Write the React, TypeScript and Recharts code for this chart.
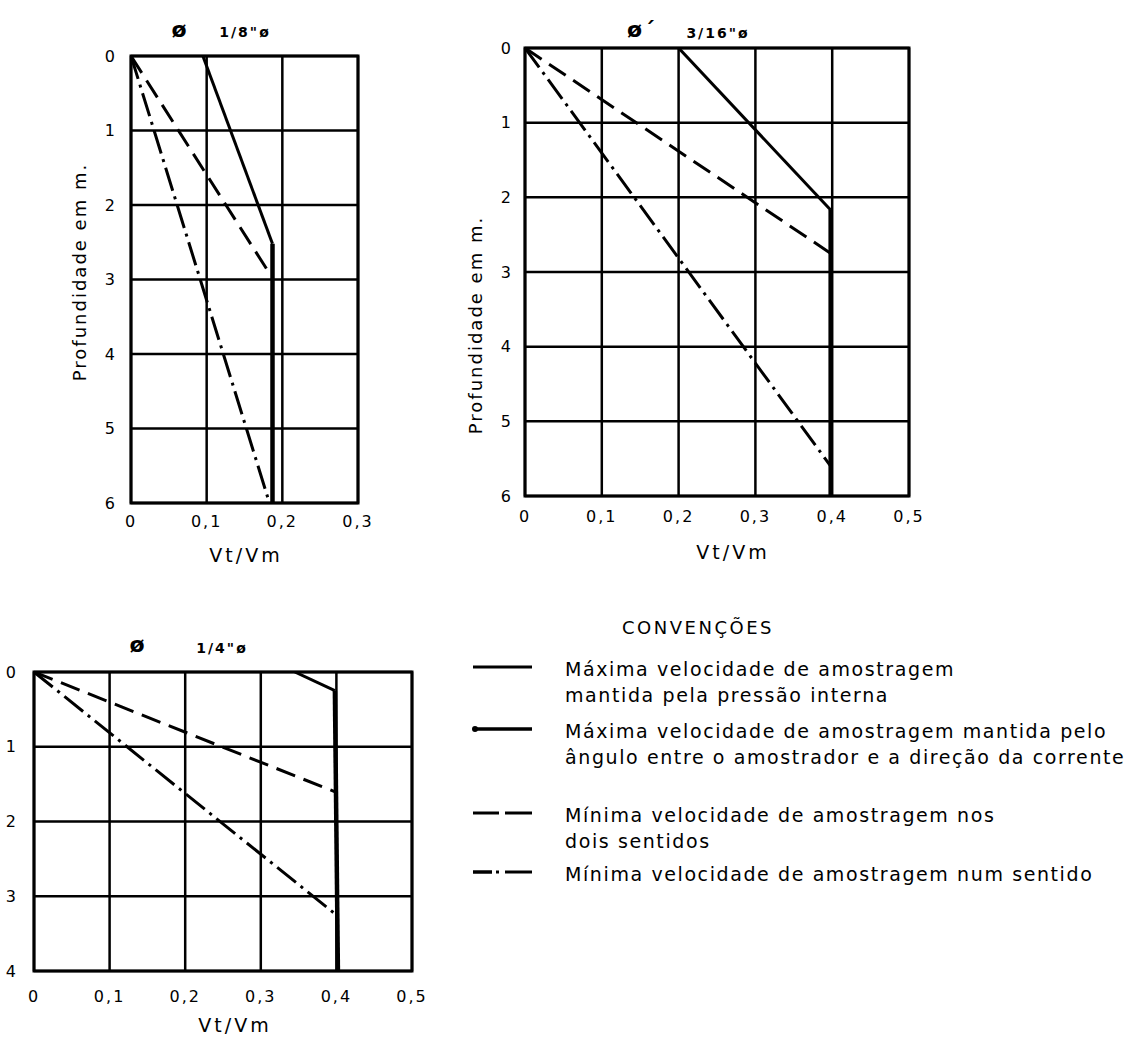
import { LineChart, Line, XAxis, YAxis, CartesianGrid, ReferenceArea } from 'recharts';

// Vt/Vm (v) x profundidade em m (p)
// 1/8" ø
const pressao18 = [{ v: 0.095, p: 0 }, { v: 0.187, p: 2.52 }];
const angulo18 = [{ v: 0.187, p: 2.52 }, { v: 0.187, p: 6 }];
const doisSentidos18 = [{ v: 0, p: 0 }, { v: 0.185, p: 2.95 }];
const umSentido18 = [{ v: 0, p: 0 }, { v: 0.183, p: 6 }];
const xTicks18 = [0, 0.1, 0.2, 0.3];
const yTicks18 = [0, 1, 2, 3, 4, 5, 6];

// 3/16" ø
const pressao316 = [{ v: 0.2, p: 0 }, { v: 0.398, p: 2.17 }];
const angulo316 = [{ v: 0.398, p: 2.17 }, { v: 0.398, p: 6 }];
const doisSentidos316 = [{ v: 0, p: 0 }, { v: 0.398, p: 2.75 }];
const umSentido316 = [{ v: 0, p: 0 }, { v: 0.398, p: 5.6 }];
const xTicks316 = [0, 0.1, 0.2, 0.3, 0.4, 0.5];
const yTicks316 = [0, 1, 2, 3, 4, 5, 6];

// 1/4" ø
const pressao14 = [{ v: 0.345, p: 0 }, { v: 0.398, p: 0.25 }];
const angulo14 = [{ v: 0.398, p: 0.25 }, { v: 0.402, p: 4 }];
const doisSentidos14 = [{ v: 0, p: 0 }, { v: 0.4, p: 1.61 }];
const umSentido14 = [{ v: 0, p: 0 }, { v: 0.4, p: 3.25 }];
const xTicks14 = [0, 0.1, 0.2, 0.3, 0.4, 0.5];
const yTicks14 = [0, 1, 2, 3, 4];

const legendTitle = 'CONVENÇÕES';
const legendLines = [
  ['Máxima velocidade de amostragem', 'mantida pela pressão interna'],
  ['Máxima velocidade de amostragem mantida pelo', 'ângulo entre o amostrador e a direção da corrente'],
  ['Mínima velocidade de amostragem nos', 'dois sentidos'],
  ['Mínima velocidade de amostragem num sentido'],
];

const FONT = '"DejaVu Sans", sans-serif';

const lineStyle = {
  pressao: { strokeWidth: 3 },
  angulo: { strokeWidth: 4.5 },
  dois: { strokeWidth: 3, strokeDasharray: '20 9' },
  um: { strokeWidth: 3, strokeDasharray: '24 6 3 6' },
};

const fmt = (v: number) => (v === 0 ? '0' : v.toFixed(1).replace('.', ','));

type Serie = { key: keyof typeof lineStyle; data: { v: number; p: number }[] };

function Panel(props: {
  left: number; top: number; w: number; h: number;
  xMax: number; yMax: number; xTicks: number[]; yTicks: number[];
  series: Serie[]; xm: number; ym: number;
}) {
  const { left, top, w, h, xMax, yMax, xTicks, yTicks, series, xm, ym } = props;
  const tick = { fill: '#000', fontSize: 16, fontFamily: FONT, letterSpacing: 2 };
  return (
    <div style={{ position: 'absolute', left: left - 30, top: top - 10 }}>
      <LineChart width={30 + w + 20} height={10 + h + 40} margin={{ top: 10, right: 20, left: 0, bottom: 0 }}>
        <CartesianGrid stroke="#000" strokeWidth={2.5} />
        <XAxis
          dataKey="v" type="number" domain={[0, xMax]} ticks={xTicks} allowDataOverflow
          tickFormatter={fmt} axisLine={false} tickLine={false} tickSize={0} tickMargin={xm}
          height={40} tick={tick} fontSize={16} fontFamily={FONT} interval={0}
        />
        <YAxis
          dataKey="p" type="number" domain={[0, yMax]} ticks={yTicks} reversed allowDataOverflow
          axisLine={false} tickLine={false} tickSize={0} tickMargin={ym}
          width={30} tick={tick} fontSize={16} fontFamily={FONT} interval={0}
        />
        <ReferenceArea x1={0} x2={xMax} y1={0} y2={yMax} fill="none" stroke="#000" strokeWidth={3} />
        {series.map((s, i) => (
          <Line
            key={i} data={s.data} dataKey="p" type="linear" stroke="#000"
            {...lineStyle[s.key]} dot={false} activeDot={false} isAnimationActive={false}
          />
        ))}
      </LineChart>
    </div>
  );
}

const txt = (x: number, y: number, s: string, size: number, extra: object = {}) => (
  <div
    style={{
      position: 'absolute', left: x, top: y, transform: 'translate(-50%, -50%)',
      fontFamily: FONT, fontSize: size, letterSpacing: 2, whiteSpace: 'nowrap', lineHeight: 1, ...extra,
    }}
  >
    {s}
  </div>
);

function Symbol({ kind }: { kind: keyof typeof lineStyle }) {
  return (
    <svg width={62} height={12} style={{ display: 'block' }}>
      {kind === 'dois' ? (
        <>
          <line x1={1} y1={6} x2={27} y2={6} stroke="#000" strokeWidth={3} />
          <line x1={33} y1={6} x2={60} y2={6} stroke="#000" strokeWidth={3} />
        </>
      ) : kind === 'um' ? (
        <>
          <line x1={1} y1={6} x2={20} y2={6} stroke="#000" strokeWidth={3.5} />
          <line x1={24} y1={6} x2={27} y2={6} stroke="#000" strokeWidth={3} />
          <line x1={33} y1={6} x2={60} y2={6} stroke="#000" strokeWidth={3} />
        </>
      ) : (
        <>
          <line x1={1} y1={6} x2={60} y2={6} stroke="#000" strokeWidth={kind === 'angulo' ? 3.5 : 3} />
          {kind === 'angulo' && <circle cx={3} cy={6} r={3} fill="#000" />}
        </>
      )}
    </svg>
  );
}

export default function App() {
  const legendKinds: (keyof typeof lineStyle)[] = ['pressao', 'angulo', 'dois', 'um'];
  const legendY = [667, 729, 813, 872];
  return (
    <div style={{ position: 'absolute', left: 0, top: 0, width: 1127, height: 1038, background: '#fff', fontFamily: FONT }}>
      <Panel
        left={131} top={56} w={227} h={447} xMax={0.3} yMax={6} xTicks={xTicks18} yTicks={yTicks18}
        xm={13} ym={14}
        series={[
          { key: 'pressao', data: pressao18 },
          { key: 'angulo', data: angulo18 },
          { key: 'dois', data: doisSentidos18 },
          { key: 'um', data: umSentido18 },
        ]}
      />
      <Panel
        left={525} top={48} w={384} h={448} xMax={0.5} yMax={6} xTicks={xTicks316} yTicks={yTicks316}
        xm={15} ym={12}
        series={[
          { key: 'pressao', data: pressao316 },
          { key: 'angulo', data: angulo316 },
          { key: 'dois', data: doisSentidos316 },
          { key: 'um', data: umSentido316 },
        ]}
      />
      <Panel
        left={34} top={672} w={378} h={299} xMax={0.5} yMax={4} xTicks={xTicks14} yTicks={yTicks14}
        xm={20} ym={16}
        series={[
          { key: 'pressao', data: pressao14 },
          { key: 'angulo', data: angulo14 },
          { key: 'dois', data: doisSentidos14 },
          { key: 'um', data: umSentido14 },
        ]}
      />

      {/* titles */}
      {txt(180, 30, 'ø', 22, { fontWeight: 'bold' })}
      {txt(245, 32, '1/8"ø', 14, { fontWeight: 'bold' })}
      {txt(642, 30, 'ø´', 22, { fontWeight: 'bold' })}
      {txt(718, 33, '3/16"ø', 14, { fontWeight: 'bold' })}
      {txt(138, 645, 'ø', 22, { fontWeight: 'bold' })}
      {txt(222, 648, '1/4"ø', 14, { fontWeight: 'bold' })}

      {/* axis labels */}
      {txt(246, 555, 'Vt/Vm', 19, { letterSpacing: 3 })}
      {txt(733, 552, 'Vt/Vm', 19, { letterSpacing: 3 })}
      {txt(235, 1025, 'Vt/Vm', 19, { letterSpacing: 3 })}
      {txt(80, 272, 'Profundidade em m.', 18, { transform: 'translate(-50%, -50%) rotate(-90deg)' })}
      {txt(476, 325, 'Profundidade em m.', 18, { transform: 'translate(-50%, -50%) rotate(-90deg)' })}

      {/* legend */}
      {txt(698, 628, legendTitle, 18, { letterSpacing: 2.5 })}
      {legendKinds.map((k, i) => (
        <div key={k}>
          <div style={{ position: 'absolute', left: 472, top: legendY[i] - 6 }}>
            <Symbol kind={k} />
          </div>
          <div
            style={{
              position: 'absolute', left: 565, top: legendY[i] - 11, fontSize: 19, lineHeight: '26px',
              letterSpacing: 1.6, whiteSpace: 'nowrap',
            }}
          >
            {legendLines[i].map((l, j) => (
              <div key={j}>{l}</div>
            ))}
          </div>
        </div>
      ))}
    </div>
  );
}
